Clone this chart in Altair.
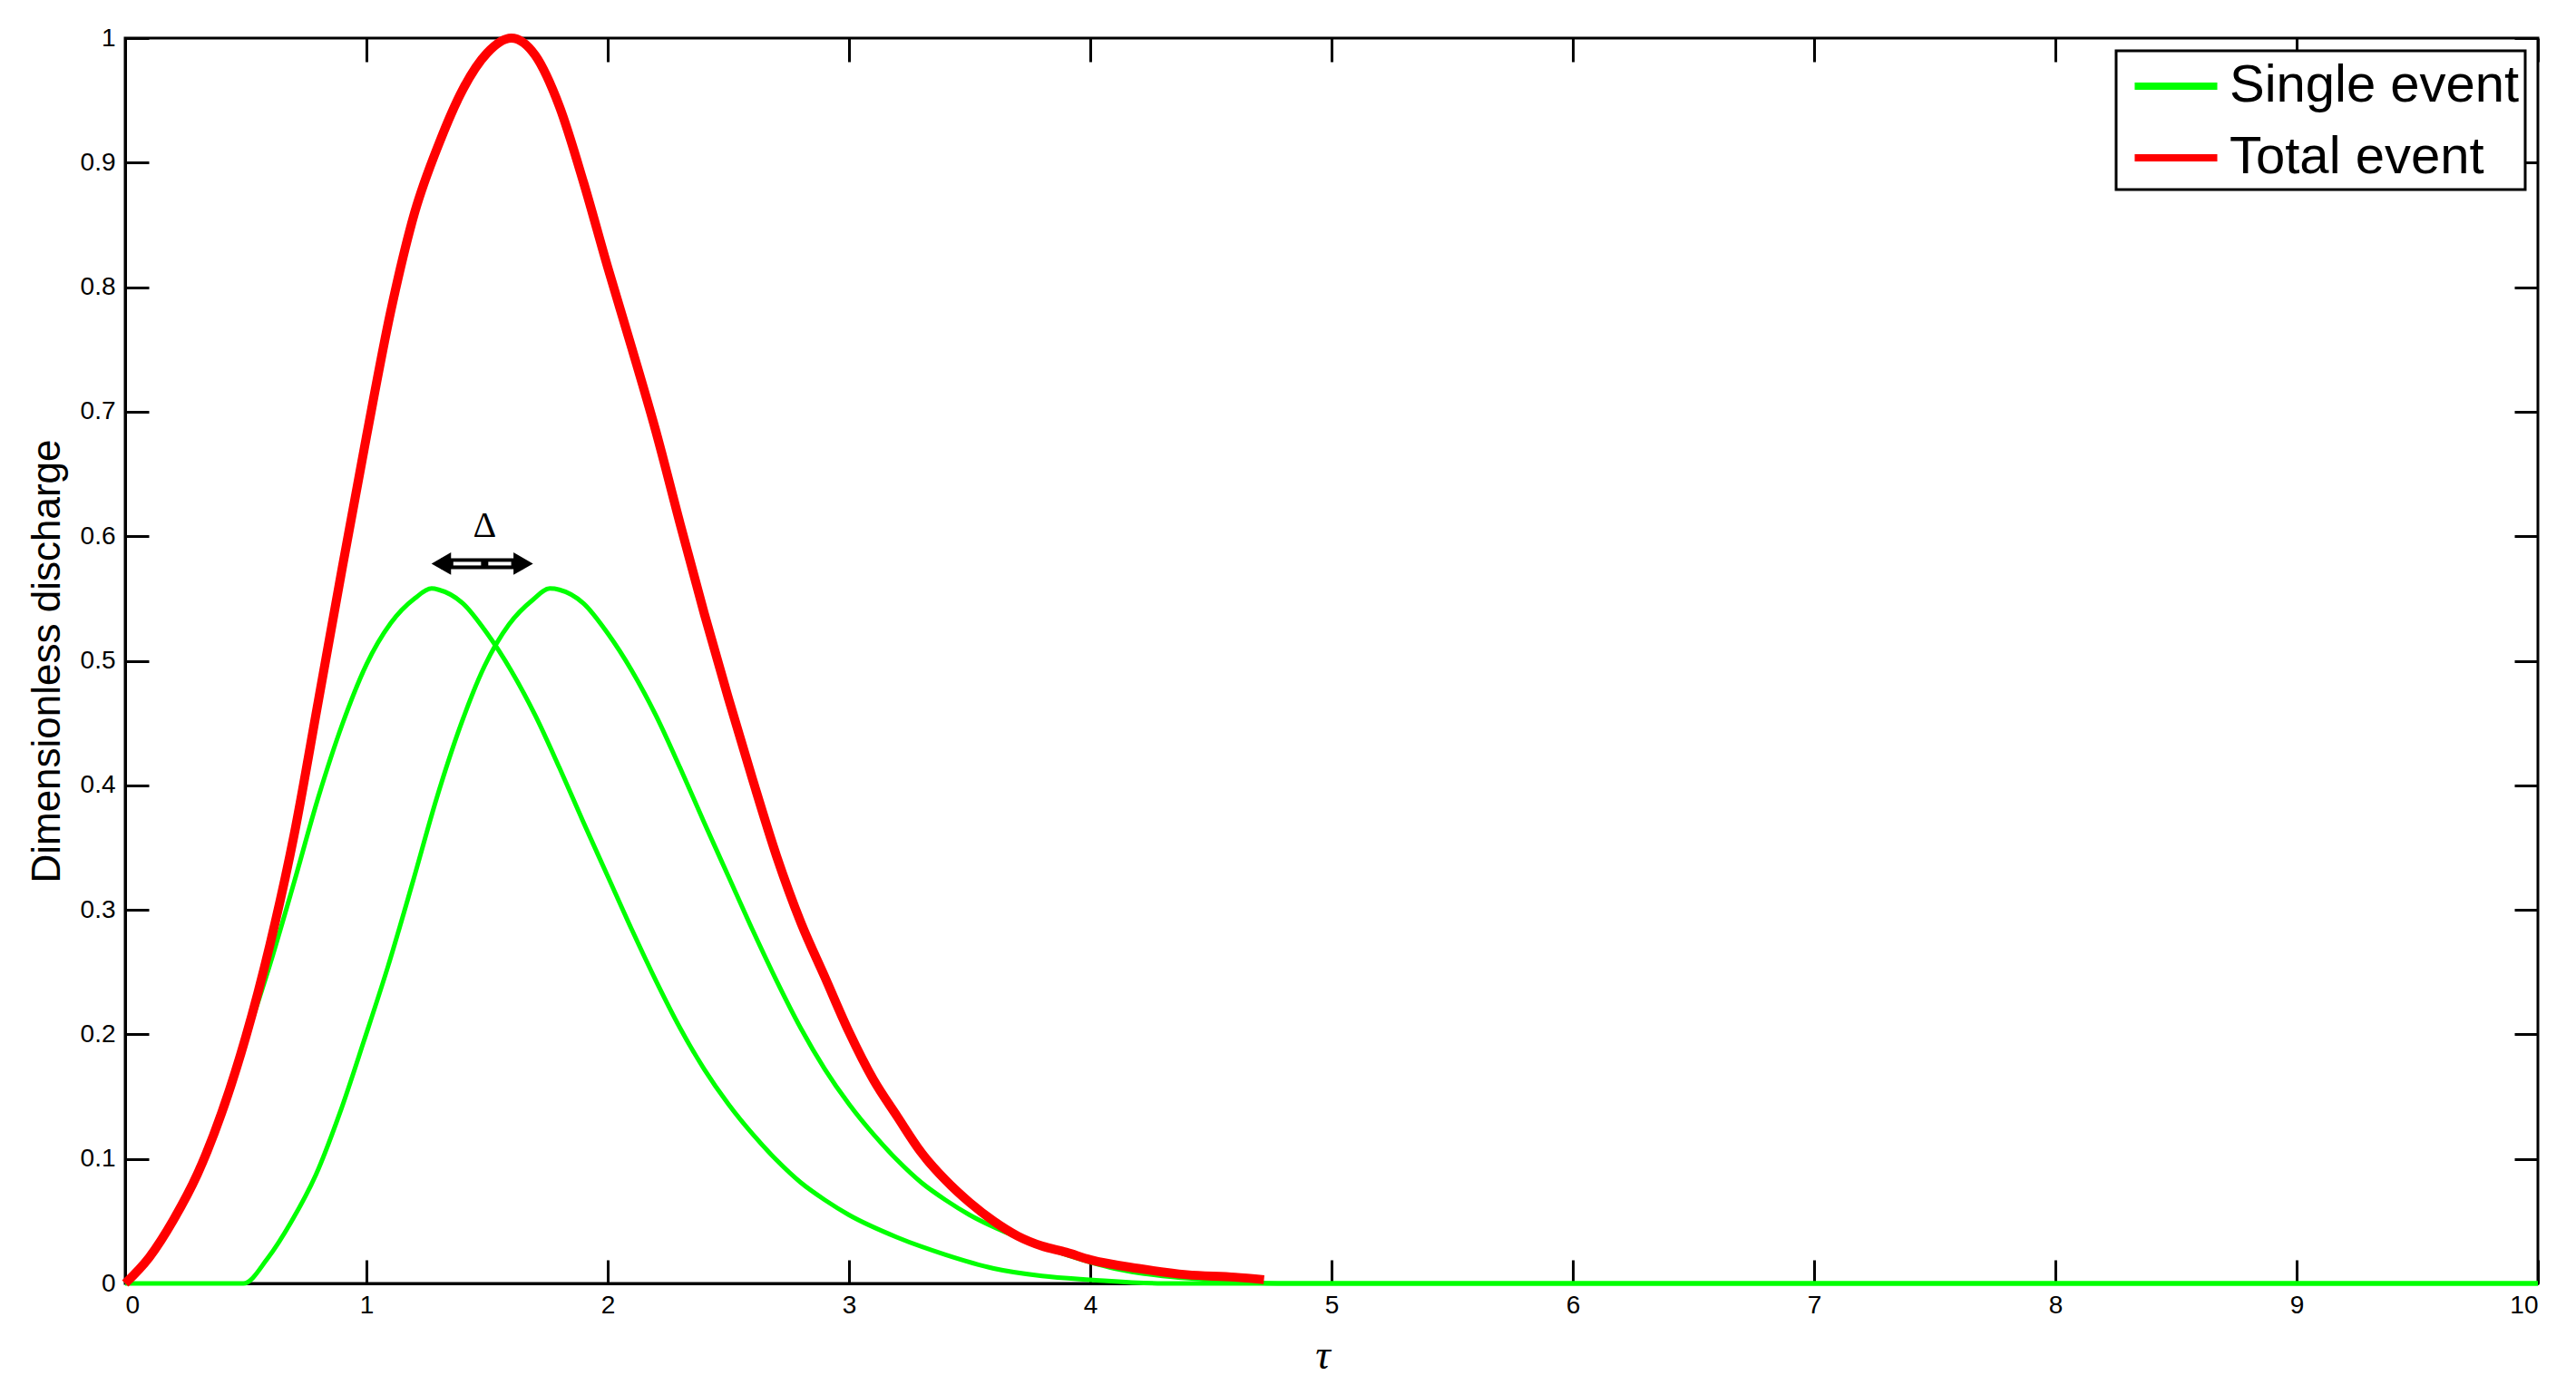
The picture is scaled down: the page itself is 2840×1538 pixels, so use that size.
import altair as alt
import pandas as pd

# ---- data ----
single1_tau = [0.0, 0.1, 0.2, 0.3, 0.4, 0.5, 0.6, 0.7, 0.8, 0.9, 1.0, 1.1, 1.2, 1.27, 1.3, 1.4,
               1.5, 1.6, 1.7, 1.8, 1.9, 2.0, 2.1, 2.2, 2.3, 2.4, 2.5, 2.6, 2.7, 2.8, 2.9, 3.0,
               3.2, 3.4, 3.6, 3.8, 4.0, 4.3, 10.0]
single1_q = [0.000, 0.021, 0.051, 0.088, 0.138, 0.196, 0.256, 0.322, 0.390, 0.449, 0.497, 0.530, 0.550, 0.558, 0.557, 0.546,
             0.522, 0.492, 0.456, 0.414, 0.370, 0.327, 0.284, 0.243, 0.205, 0.172, 0.144, 0.120, 0.099, 0.081, 0.067, 0.055,
             0.037, 0.023, 0.012, 0.006, 0.003, 0.000, 0.000]

single2_tau = [0.0, 0.49, 0.59, 0.69, 0.79, 0.89, 0.99, 1.09, 1.19, 1.29, 1.39, 1.49, 1.59, 1.69, 1.76, 1.8,
               1.9, 2.0, 2.1, 2.2, 2.3, 2.4, 2.5, 2.6, 2.7, 2.8, 2.9, 3.0, 3.1, 3.2, 3.3, 3.4,
               3.5, 3.7, 3.9, 4.1, 4.3, 4.5, 4.8, 10.0]
single2_q = [0.000, 0.000, 0.020, 0.050, 0.087, 0.137, 0.195, 0.255, 0.321, 0.389, 0.448, 0.496, 0.529, 0.549, 0.558, 0.557,
             0.546, 0.522, 0.492, 0.456, 0.414, 0.370, 0.327, 0.284, 0.243, 0.205, 0.172, 0.144, 0.120, 0.099, 0.081, 0.067,
             0.055, 0.037, 0.023, 0.012, 0.006, 0.003, 0.000, 0.000]

total_tau = [0.0, 0.1, 0.2, 0.3, 0.4, 0.5, 0.6, 0.7, 0.8, 0.9, 1.0, 1.1, 1.2, 1.3, 1.4, 1.5,
             1.6, 1.7, 1.8, 1.9, 2.0, 2.1, 2.2, 2.3, 2.4, 2.5, 2.6, 2.7, 2.8, 2.9, 3.0, 3.1,
             3.2, 3.3, 3.4, 3.5, 3.6, 3.7, 3.8, 3.9, 4.0, 4.2, 4.4, 4.6, 4.72]
total_q = [0.000, 0.021, 0.051, 0.088, 0.137, 0.198, 0.272, 0.360, 0.467, 0.575, 0.680, 0.780, 0.860, 0.915, 0.959, 0.988,
           1.000, 0.986, 0.945, 0.884, 0.816, 0.751, 0.684, 0.610, 0.538, 0.470, 0.405, 0.343, 0.290, 0.246, 0.202, 0.164,
           0.134, 0.105, 0.083, 0.065, 0.050, 0.038, 0.030, 0.025, 0.019, 0.012, 0.007, 0.005, 0.003]

series_names = ["Single event", "Total event"]
series_colors = ["#00ff00", "#ff0000"]

x_ticks = [0, 1, 2, 3, 4, 5, 6, 7, 8, 9, 10]
y_ticks = [0, 0.1, 0.2, 0.3, 0.4, 0.5, 0.6, 0.7, 0.8, 0.9, 1]

# Δ annotation (double arrow between the two single-event peaks)
arrow_tau = [1.31, 1.65]
arrow_q = [0.578, 0.578]
arrow_gap_start = [1.36, 1.505]
arrow_gap_end = [1.475, 1.60]
delta_label = ["Δ"]
delta_tau = [1.49]
delta_q = [0.608]

# ---- tables ----
rows = []
for t, q in zip(single1_tau, single1_q):
    rows.append({"tau": t, "q": q, "series": "Single event", "curve": "single 1"})
for t, q in zip(single2_tau, single2_q):
    rows.append({"tau": t, "q": q, "series": "Single event", "curve": "single 2"})
for t, q in zip(total_tau, total_q):
    rows.append({"tau": t, "q": q, "series": "Total event", "curve": "total"})
df = pd.DataFrame(rows)

arrow_df = pd.DataFrame({"t0": [arrow_tau[0]], "t1": [arrow_tau[1]], "q": [arrow_q[0]]})
gap_df = pd.DataFrame({"t0": arrow_gap_start, "t1": arrow_gap_end, "q": arrow_q})
heads_df = pd.DataFrame({"tau": arrow_tau, "q": arrow_q,
                         "shape": ["triangle-left", "triangle-right"]})
delta_df = pd.DataFrame({"tau": delta_tau, "q": delta_q, "label": delta_label})

W, H = 2660, 1373
TICK = 26

xs = alt.Scale(domain=[0, 10], nice=False, zero=False)
ys = alt.Scale(domain=[0, 1], nice=False, zero=False)
cs = alt.Scale(domain=series_names, range=series_colors)

legend = alt.Legend(title=None, orient="top-right", offset=14,
                    symbolType="M-1.57,0L1.57,0", symbolSize=3364, symbolStrokeWidth=8,
                    symbolOffset=27, labelFontSize=58, labelFont="Liberation Sans",
                    labelColor="black", strokeColor="black", fillColor="white",
                    padding=6, rowPadding=17, labelOffset=26, labelLimit=600)

ax_main_x = alt.Axis(orient="bottom", values=x_ticks, format="d", ticks=False, domain=True,
                     labelPadding=10, title="τ", titleFont="Liberation Serif",
                     titleFontStyle="italic", titleFontSize=46, titleFontWeight="normal",
                     titlePadding=19, titleColor="black", titleX=W / 2 - 10)
ax_main_y = alt.Axis(orient="left", values=y_ticks, format="~g", ticks=False, domain=True,
                     labelPadding=11, title="Dimensionless discharge", titleFont="Liberation Sans",
                     titleFontSize=44, titleFontWeight="normal", titlePadding=14, titleColor="black")
# inward ticks at bottom and left
ax_tb_x = alt.Axis(orient="top", offset=-H, values=x_ticks, labels=False, domain=False,
                   ticks=True, tickSize=TICK, title=None)
ax_tl_y = alt.Axis(orient="right", offset=-W, values=y_ticks, labels=False, domain=False,
                   ticks=True, tickSize=TICK, title=None)
# inward ticks at top and right
ax_tt_x = alt.Axis(orient="bottom", offset=-H, values=x_ticks, labels=False, domain=False,
                   ticks=True, tickSize=TICK, title=None)
ax_tr_y = alt.Axis(orient="left", offset=-W, values=y_ticks, labels=False, domain=False,
                   ticks=True, tickSize=TICK, title=None)

green = alt.Chart(df).transform_filter(alt.datum.series == "Single event").mark_line(
    interpolate="monotone", strokeWidth=5).encode(
    x=alt.X("tau:Q", scale=xs, axis=ax_main_x),
    y=alt.Y("q:Q", scale=ys, axis=ax_main_y),
    color=alt.Color("series:N", scale=cs, legend=legend),
    detail="curve:N",
)

red = alt.Chart(df).transform_filter(alt.datum.series == "Total event").mark_line(
    interpolate="monotone", strokeWidth=10).encode(
    x=alt.X("tau:Q", scale=xs, axis=ax_tb_x),
    y=alt.Y("q:Q", scale=ys, axis=ax_tl_y),
    color=alt.Color("series:N", scale=cs, legend=legend),
    detail="curve:N",
)

arrow_black = alt.Chart(arrow_df).mark_rule(color="black", strokeWidth=12).encode(
    x=alt.X("t0:Q", scale=xs, axis=ax_tt_x),
    x2="t1:Q",
    y=alt.Y("q:Q", scale=ys, axis=ax_tr_y),
)

arrow_white = alt.Chart(gap_df).mark_rule(color="white", strokeWidth=4).encode(
    x=alt.X("t0:Q", scale=xs, axis=None),
    x2="t1:Q",
    y=alt.Y("q:Q", scale=ys, axis=None),
)

heads = alt.Chart(heads_df).mark_point(filled=True, color="black", size=620, opacity=1).encode(
    x=alt.X("tau:Q", scale=xs, axis=None),
    y=alt.Y("q:Q", scale=ys, axis=None),
    shape=alt.Shape("shape:N", scale=None, legend=None),
)

delta = alt.Chart(delta_df).mark_text(font="Liberation Serif", fontSize=40, color="black").encode(
    x=alt.X("tau:Q", scale=xs, axis=None),
    y=alt.Y("q:Q", scale=ys, axis=None),
    text="label:N",
)

chart = alt.layer(green, red, arrow_black, arrow_white, heads, delta).resolve_axis(
    x="independent", y="independent"
).properties(
    width=W, height=H,
    padding={"left": 22, "top": 14, "right": 10, "bottom": 10},
    background="white",
).configure_view(
    stroke="black", strokeWidth=3
).configure_axis(
    grid=False, labelFont="Liberation Sans", labelFontSize=28, labelColor="black",
    domainColor="black", domainWidth=3, tickColor="black", tickWidth=3,
).configure_legend(
    strokeWidth=3
)

chart.save("out.html", embed_options={"renderer": "svg", "actions": False})
